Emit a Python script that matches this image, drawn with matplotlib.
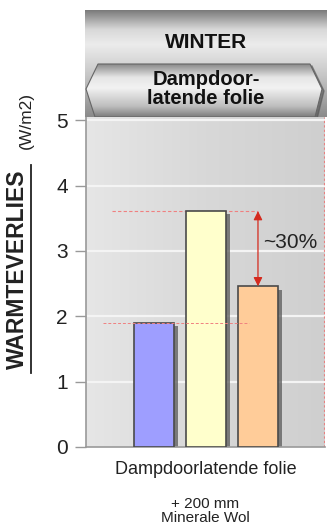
import matplotlib
matplotlib.use("Agg")
import matplotlib.pyplot as plt
import numpy as np
from matplotlib.patches import Polygon
from matplotlib.colors import LinearSegmentedColormap

plt.rcParams['font.family'] = ['Liberation Sans', 'DejaVu Sans']

# data
categorieen = ["Dampdoorlatende folie A", "Dampdoorlatende folie B", "Dampdoorlatende folie C"]
waarden = [1.90, 3.61, 2.46]
kleuren = ["#9e9eff", "#ffffcc", "#ffcc99"]
yticks = [0, 1, 2, 3, 4, 5]
verschil_tekst = "~30%"

fig = plt.figure(figsize=(3.27, 5.31), dpi=100)

# hoofdgrafiek
ax = fig.add_axes([86/327, 84/531, 239/327, 330/531])
x = np.arange(len(waarden))
ax.set_xlim(-1.31, 3.29)
ax.set_ylim(0, 5.05)

# achtergrond verloop
grad = np.linspace(0, 1, 256).reshape(1, -1)
bg = LinearSegmentedColormap.from_list("bg", ["#e6e6e6", "#d8d8d8", "#cfcfcf"])
ax.imshow(grad, cmap=bg, aspect="auto", extent=[-1.31, 3.29, 0, 5.05], zorder=0)

for t in yticks[1:]:
    ax.axhline(t, color="#f4f4f4", lw=1.6, zorder=1)

# schaduw + balken
ax.bar(x + 0.07, waarden, width=0.77, bottom=-0.05, color="#5a5a5a", alpha=0.75, zorder=2)
ax.bar(x, waarden, width=0.77, color=kleuren, edgecolor="#4a4a4a", lw=1.2, zorder=3)

# hulplijnen
ax.plot([-0.8, 2.0], [waarden[1], waarden[1]], color="#f08080", ls=(0, (3, 2)), lw=0.8, zorder=1.5)
ax.plot([-0.98, 1.83], [waarden[0], waarden[0]], color="#f08080", ls=(0, (3, 2)), lw=0.7, zorder=4)
ax.annotate("", xy=(2.0, waarden[2]), xytext=(2.0, waarden[1]),
            arrowprops=dict(arrowstyle="<|-|>", color="#d42a1e", lw=0.9,
                            mutation_scale=13, shrinkA=0, shrinkB=0), zorder=5)
ax.text(2.1, 3.13, verschil_tekst, fontsize=15, color="#222222", va="center", ha="left", clip_on=False)
ax.axvline(3.27, color="#e88080", ls=(0, (2, 2)), lw=0.8)

ax.set_yticks(yticks)
ax.set_yticklabels([str(t) for t in yticks], fontsize=15, color="#222222")
ax.set_xticks([])
ax.tick_params(axis="y", length=8, width=1, color="#999999", pad=5, direction="out")
for s in ["top", "right"]:
    ax.spines[s].set_visible(False)
ax.spines["left"].set_color("#9a9a9a")
ax.spines["left"].set_linewidth(1.2)
ax.spines["bottom"].set_color("#9a9a9a")
ax.spines["bottom"].set_linewidth(1.2)

# as labels
fig.text(29/327, 1 - 269/531, "WARMTEVERLIES", rotation=90, fontsize=16.5, fontweight="bold",
         ha="right", va="center", color="#222222")
fig.add_artist(plt.Line2D([31/327, 31/327], [1 - 373/531, 1 - 165/531], color="#222222", lw=1.3))
fig.text(34/327, 1 - 121/531, "(W/m2)", rotation=90, fontsize=12.5, ha="right", va="center",
         color="#222222")

fig.text(206/327, 1 - 470/531, "Dampdoorlatende folie", fontsize=13, ha="center", va="center", color="#222222")
fig.text(205/327, 1 - 511/531, "+ 200 mm\nMinerale Wol", fontsize=11, ha="center", va="center",
         color="#222222", linespacing=0.95)

# kop
hx = fig.add_axes([85/327, 414/531, 242/327, 107/531])
hx.axis("off")
vg = np.linspace(0, 1, 256).reshape(-1, 1)
kop = LinearSegmentedColormap.from_list("kop", [(0, "#7a7a7a"), (0.18, "#d8d8d8"), (0.32, "#ececec"),
                                                 (0.6, "#c8c8c8"), (1, "#8a8a8a")])
hx.imshow(vg, cmap=kop, aspect="auto", extent=[0, 242, 107, 0], zorder=0)
hx.text(121, 32, "WINTER", fontsize=15, fontweight="bold", ha="center", va="center", color="#111111")

hex_pts = [(1, 79), (13, 54), (225, 54), (237, 79), (230, 107), (10, 107)]
schaduw = Polygon([(px + 2, py + 2) for px, py in hex_pts], closed=True, color="#555555", alpha=0.6, zorder=1)
hx.add_patch(schaduw)
zeshoek = Polygon(hex_pts, closed=True, facecolor="none", edgecolor="#666666", lw=0.8, zorder=3)
hx.add_patch(zeshoek)
hg = LinearSegmentedColormap.from_list("hex", [(0, "#8a8a8a"), (0.25, "#e6e6e6"), (0.45, "#f2f2f2"),
                                                (0.8, "#bdbdbd"), (1, "#7c7c7c")])
im = hx.imshow(vg, cmap=hg, aspect="auto", extent=[0, 242, 107, 54], zorder=2)
im.set_clip_path(zeshoek)
hx.text(121, 79, "Dampdoor-\nlatende folie", fontsize=14.5, fontweight="bold", ha="center", va="center",
        color="#111111", linespacing=0.95, zorder=4)
hx.set_xlim(0, 242)
hx.set_ylim(107, 0)

fig.savefig("out.png", dpi=100, facecolor="white")
